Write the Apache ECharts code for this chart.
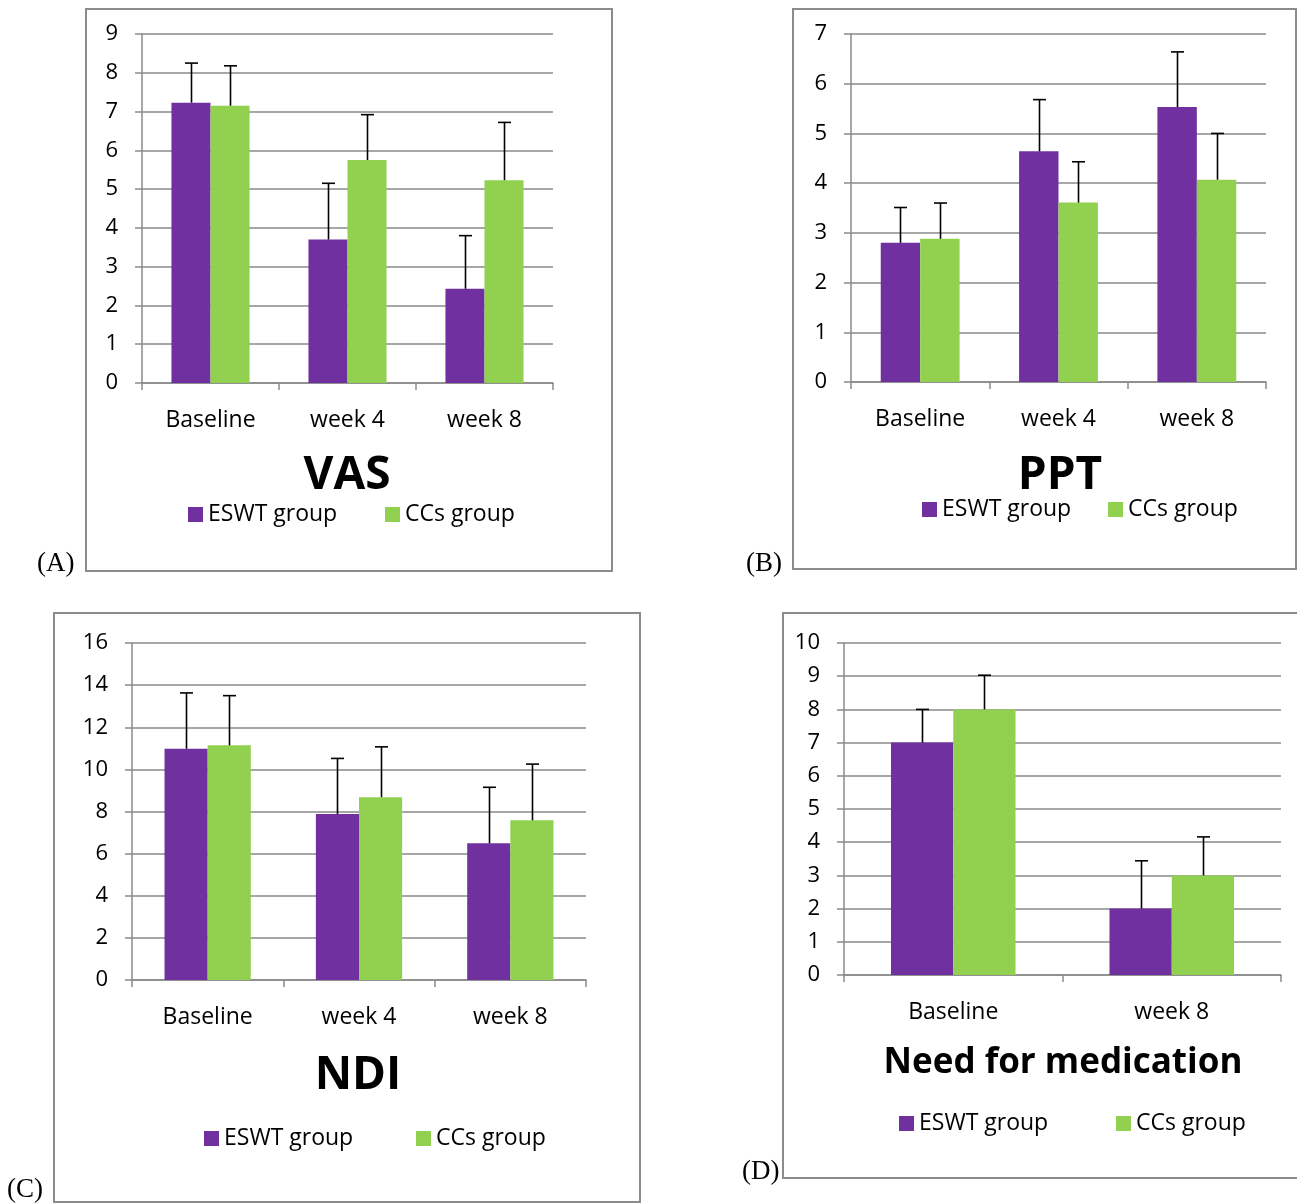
<!DOCTYPE html>
<html><head><meta charset="utf-8">
<script src="https://cdn.jsdelivr.net/npm/echarts@6/dist/echarts.min.js"></script>
<style>html,body{margin:0;padding:0;background:#fff}#c{width:1297px;height:1204px}</style>
</head><body><div id="c"></div>
<script>
// ---- data ----
const cats3 = ['Baseline', 'week 4', 'week 8'];
const cats2 = ['Baseline', 'week 8'];
const seriesNames = ['ESWT group', 'CCs group'];

const vasEswt = [7.23, 3.70, 2.43];
const vasEswtSd = [1.02, 1.45, 1.37];
const vasCcs = [7.15, 5.75, 5.23];
const vasCcsSd = [1.03, 1.17, 1.49];

const pptEswt = [2.80, 4.64, 5.53];
const pptEswtSd = [0.71, 1.04, 1.11];
const pptCcs = [2.88, 3.61, 4.07];
const pptCcsSd = [0.72, 0.82, 0.93];

const ndiEswt = [10.98, 7.88, 6.49];
const ndiEswtSd = [2.65, 2.64, 2.66];
const ndiCcs = [11.14, 8.68, 7.58];
const ndiCcsSd = [2.36, 2.39, 2.67];

const medEswt = [7.0, 2.0];
const medEswtSd = [1.0, 1.44];
const medCcs = [8.0, 3.0];
const medCcsSd = [1.03, 1.16];

const yTicks = {
  vas: {max: 9, interval: 1},
  ppt: {max: 7, interval: 1},
  ndi: {max: 16, interval: 2},
  med: {max: 10, interval: 1}
};
const titles = ['VAS', 'PPT', 'NDI', 'Need for medication'];
const panelLabels = ['(A)', '(B)', '(C)', '(D)'];

// ---- styling / layout ----
const PURPLE = '#7030A0', GREEN = '#92D050', GRIDC = '#8a8a8a';
const FONT = '"Open Sans", sans-serif';
const CATGAP = 0.43;

const panels = [
  {cats: cats3, e: vasEswt, es: vasEswtSd, c: vasCcs, cs: vasCcsSd, y: yTicks.vas,
   grid: {left: 142, right: 1297 - 553, top: 34, bottom: 1204 - 383},
   box: [86, 9, 526, 562], title: [347, 476, 46], leg: [[188, 516], [385, 516]], lab: [37, 564]},
  {cats: cats3, e: pptEswt, es: pptEswtSd, c: pptCcs, cs: pptCcsSd, y: yTicks.ppt,
   grid: {left: 851, right: 1297 - 1266, top: 34, bottom: 1204 - 382},
   box: [793, 9, 503, 560], title: [1060, 476, 46], leg: [[922, 511], [1108, 511]], lab: [746, 564]},
  {cats: cats3, e: ndiEswt, es: ndiEswtSd, c: ndiCcs, cs: ndiCcsSd, y: yTicks.ndi,
   grid: {left: 132, right: 1297 - 586, top: 643, bottom: 1204 - 980},
   box: [54, 613, 586, 589], title: [358, 1076, 46], leg: [[204, 1140], [416, 1140]], lab: [7, 1190]},
  {cats: cats2, e: medEswt, es: medEswtSd, c: medCcs, cs: medCcsSd, y: yTicks.med,
   grid: {left: 844, right: 1297 - 1281, top: 643, bottom: 1204 - 975},
   box: [783, 613, 530, 565], title: [1063, 1063, 35], leg: [[899, 1125], [1116, 1125]], lab: [742, 1172]}
];

function errItem(means, sds) {
  return means.map((m, i) => [i, m + sds[i], m]);
}
function errRender(side) {
  return function (params, api) {
    const i = api.value(0), top = api.value(1), mean = api.value(2);
    const catW = api.size([1, 0])[0];
    const bw = catW * (1 - CATGAP) / 2;
    const p0 = api.coord([i, mean]);
    const p1 = api.coord([i, top]);
    const x = Math.round(p0[0] + side * bw / 2) + 0.5;
    const st = {stroke: '#000', lineWidth: 1.6};
    return {type: 'group', children: [
      {type: 'line', shape: {x1: x, y1: p0[1], x2: x, y2: p1[1]}, style: st},
      {type: 'line', shape: {x1: x - 6.5, y1: p1[1], x2: x + 6.5, y2: p1[1]}, style: st}
    ]};
  };
}

const option = {
  animation: false,
  backgroundColor: '#fff',
  grid: [], xAxis: [], yAxis: [], series: [], title: [], legend: [], graphic: []
};

panels.forEach((p, k) => {
  option.grid.push(Object.assign({containLabel: false}, p.grid));
  option.xAxis.push({
    type: 'category', gridIndex: k, data: p.cats,
    axisLine: {lineStyle: {color: GRIDC, width: 1.5}},
    axisTick: {show: true, length: 7, lineStyle: {color: GRIDC, width: 1.5}},
    axisLabel: {fontFamily: FONT, fontSize: 23, color: '#000', margin: 26},
    splitLine: {show: false}
  });
  option.yAxis.push({
    type: 'value', gridIndex: k, min: 0, max: p.y.max, interval: p.y.interval,
    axisLine: {show: true, lineStyle: {color: GRIDC, width: 1.5}},
    axisTick: {show: true, length: 7, lineStyle: {color: GRIDC, width: 1.5}},
    axisLabel: {fontFamily: FONT, fontSize: 22, color: '#000', margin: 24},
    splitLine: {show: true, lineStyle: {color: GRIDC, width: 1.5}}
  });
  option.series.push(
    {name: seriesNames[0], type: 'bar', xAxisIndex: k, yAxisIndex: k, data: p.e,
     itemStyle: {color: PURPLE}, barGap: '0%', barCategoryGap: (CATGAP * 100) + '%'},
    {name: seriesNames[1], type: 'bar', xAxisIndex: k, yAxisIndex: k, data: p.c,
     itemStyle: {color: GREEN}, barGap: '0%', barCategoryGap: (CATGAP * 100) + '%'},
    {type: 'custom', xAxisIndex: k, yAxisIndex: k, z: 5, data: errItem(p.e, p.es),
     renderItem: errRender(-1), silent: true},
    {type: 'custom', xAxisIndex: k, yAxisIndex: k, z: 5, data: errItem(p.c, p.cs),
     renderItem: errRender(1), silent: true}
  );
  option.title.push({
    text: titles[k], left: p.title[0], top: p.title[1], textAlign: 'center', textVerticalAlign: 'middle',
    padding: 0,
    textStyle: {fontFamily: FONT, fontWeight: 'bold', fontSize: p.title[2], color: '#000'}
  });
  seriesNames.forEach((nm, j) => {
    option.legend.push({
      data: [nm], left: p.leg[j][0], top: p.leg[j][1] - 13, itemWidth: 15, itemHeight: 15, itemGap: 0,
      icon: 'rect', selectedMode: false, padding: 0,
      textStyle: {fontFamily: FONT, fontSize: 23, color: '#000'}
    });
  });
  option.graphic.push({
    type: 'rect', shape: {x: p.box[0], y: p.box[1], width: p.box[2], height: p.box[3]},
    style: {fill: 'none', stroke: '#8c8c8c', lineWidth: 2}, silent: true, z: -1
  });
  option.graphic.push({
    type: 'text', x: p.lab[0], y: p.lab[1],
    style: {text: panelLabels[k], font: '27px "Liberation Serif", serif', fill: '#000', verticalAlign: 'middle'}
  });
});

const chart = echarts.init(document.getElementById('c'), null, {renderer: 'canvas'});
chart.setOption(option);
</script>
</body></html>
